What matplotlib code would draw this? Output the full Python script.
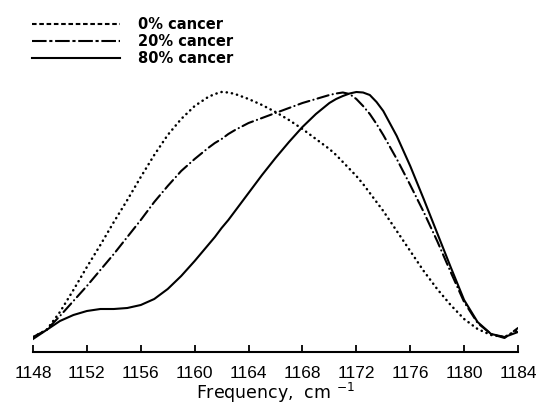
import matplotlib.pyplot as plt
from matplotlib.lines import Line2D

# Frecuencias (cm^-1) e intensidades (unidades arbitrarias)
freq = [1148, 1149, 1150, 1151, 1152, 1153, 1154, 1155, 1156, 1157, 1158,
        1159, 1160, 1161, 1161.5, 1162, 1162.5, 1163, 1164, 1165, 1166, 1167,
        1168, 1169, 1170, 1170.5, 1171, 1171.5, 1172, 1172.5, 1173, 1173.5,
        1174, 1175, 1176, 1177, 1178, 1179, 1180, 1181, 1182, 1183, 1184]

cancer_0 = [15, 22, 40, 62, 85, 107, 130, 152, 175, 197, 217,
            233, 246, 255, 258, 260, 259.5, 258, 253, 247, 240, 232,
            223, 213, 203, 197, 190, 183, 176, 168, 159, 150,
            141, 121, 101, 81, 63, 47, 33, 23, 17, 15, 22]

cancer_20 = [15, 22, 36, 51, 66, 82, 98, 115, 132, 150, 166,
             181, 193, 204, 209, 213, 218, 222, 229, 234, 239, 244,
             249, 253, 257, 258.5, 259.5, 258, 253, 246, 238, 228,
             217, 193, 167, 140, 111, 80, 50, 29, 18, 14, 24]

cancer_80 = [13, 22, 31, 37, 41, 43, 43, 44, 47, 53, 63,
             76, 91, 107, 115, 124, 132, 141, 159, 177, 194, 210,
             225, 238, 249, 253, 256, 258.5, 260, 259.5, 257, 250,
             241, 216, 186, 153, 119, 85, 52, 30, 18, 15, 20]

labels = ['0% cancer', '20% cancer', '80% cancer']
xticks = [1148, 1152, 1156, 1160, 1164, 1168, 1172, 1176, 1180, 1184]

fig = plt.figure(figsize=(5.38, 4.07), dpi=100)
ax = fig.add_axes([33 / 538, 1 - 352 / 407, 485 / 538, 300 / 407])

ax.plot(freq, cancer_0, color='black', lw=1.8, linestyle=(0, (0.1, 2.0)),
        dash_capstyle='round', solid_joinstyle='round')
ax.plot(freq, cancer_20, color='black', lw=1.5,
        linestyle=(0, (5.5, 2.0, 0.1, 2.0)), dash_capstyle='round',
        dash_joinstyle='round')
ax.plot(freq, cancer_80, color='black', lw=1.5, solid_joinstyle='round')

ax.set_xlim(1148, 1184)
ax.set_ylim(0, 300)
ax.set_xticks(xticks)
ax.set_yticks([])
for s in ['left', 'top', 'right']:
    ax.spines[s].set_visible(False)
ax.spines['bottom'].set_linewidth(1.5)
ax.tick_params(axis='x', direction='in', length=5, width=1.3, pad=10,
               labelsize=12.5)
for t in ax.get_xticklabels():
    t.set_fontfamily('Liberation Sans')
ax.set_xlabel('Frequency,  cm $^{-1}$', fontsize=12.5, labelpad=0)

# Leyenda arriba a la izquierda
handles = [
    Line2D([], [], color='black', lw=1.5, linestyle=(0, (2.2, 1.3))),
    Line2D([], [], color='black', lw=1.5, linestyle=(0, (7, 1.3, 1.5, 1.3))),
    Line2D([], [], color='black', lw=1.5),
]
fig.legend(handles, labels, loc='upper left', bbox_to_anchor=(32 / 538, 1 - 17 / 407),
           frameon=False, prop={'size': 10.5, 'weight': 'bold'},
           handlelength=6.0, handletextpad=1.3,
           labelspacing=0.15, borderpad=0, borderaxespad=0)

fig.savefig('out.png', dpi=100)
